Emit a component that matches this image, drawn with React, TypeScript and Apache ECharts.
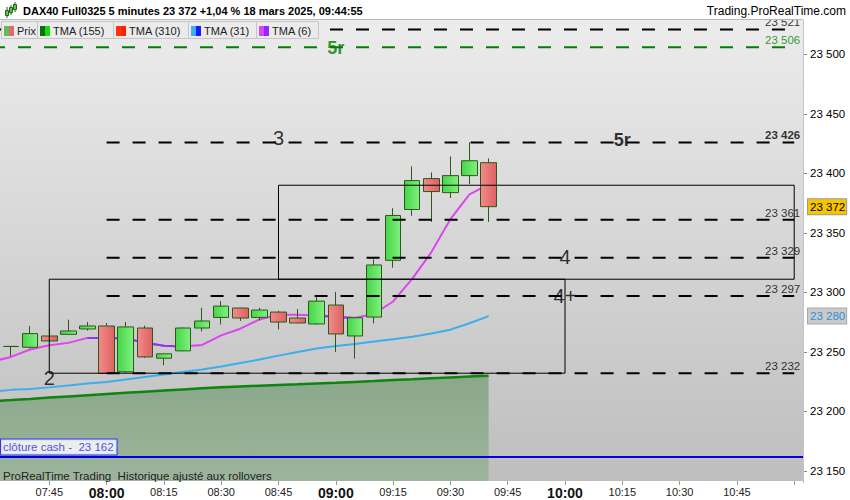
import React, { useEffect, useRef } from "react";
import * as echarts from "echarts";

// ---------- DATA ----------
const candleTimes = ["07:35","07:40","07:45","07:50","07:55","08:00","08:05","08:10","08:15","08:20","08:25","08:30","08:35","08:40","08:45","08:50","08:55","09:00","09:05","09:10","09:15","09:20","09:25","09:30","09:35","09:40"];
const opens  = [23254.5,23253.8,23263.3,23264.7,23269.2,23271.7,23233.2,23270.0,23244.6,23250.8,23270.0,23278.9,23286.8,23278.9,23283.4,23278.4,23273.4,23289.3,23263.3,23279.2,23326.9,23369.6,23395.6,23383.8,23398.1,23409.0];
const closes = [23254.5,23265.3,23259.1,23267.5,23271.7,23231.8,23270.9,23245.7,23248.3,23270.0,23275.9,23288.4,23278.4,23285.1,23275.0,23274.2,23292.6,23265.0,23278.6,23323.0,23364.6,23393.9,23384.7,23398.1,23410.6,23372.0];
const lows   = [23246.2,23252.7,23259.1,23264.7,23267.8,23231.5,23232.5,23244.9,23238.7,23250.5,23267.2,23273.0,23275.9,23276.4,23268.8,23274.0,23273.0,23249.9,23244.3,23273.9,23320.7,23364.3,23359.2,23379.3,23391.0,23359.2];
const highs  = [23254.5,23271.7,23269.2,23277.0,23275.0,23274.2,23275.0,23272.0,23248.5,23270.5,23287.0,23292.6,23287.0,23287.0,23284.5,23285.9,23296.0,23300.4,23279.0,23327.8,23370.7,23405.9,23400.8,23414.2,23426.0,23412.6];

const maTimes = ["07:30", ...candleTimes];
const tma155 = [23208.5,23209.4,23210.4,23211.5,23212.5,23213.5,23214.5,23215.5,23216.5,23217.5,23218.4,23219.3,23220.1,23220.9,23221.5,23222.1,23222.7,23223.4,23224.0,23224.7,23225.4,23226.2,23226.9,23227.8,23228.5,23229.2,23229.8];
const tma31  = [23216.5,23218.0,23218.8,23220.1,23221.7,23223.4,23224.7,23226.7,23228.8,23230.9,23233.0,23235.1,23237.6,23240.6,23243.5,23246.8,23249.8,23252.7,23254.8,23256.5,23258.6,23260.6,23262.7,23265.3,23268.6,23274.0,23280.0];
const tma6   = [23241.8,23245.7,23251.9,23255.5,23257.5,23261.7,23261.7,23261.1,23257.7,23255.0,23254.4,23255.8,23263.8,23269.4,23277.2,23281.2,23281.2,23280.6,23279.2,23278.4,23282.0,23292.3,23311.3,23333.6,23361.5,23382.4,23390.8];
const tma6FallingFrom = ["07:55", "08:55"];
const tma6FallingTo   = ["08:20", "09:05"];

const levelValues = [23521, 23506, 23426, 23361, 23329, 23297, 23232];
const levelStarts = ["07:30", "07:30", "08:00", "08:00", "08:00", "08:00", "08:00"];
const levelEnds   = ["11:00", "11:00", "11:00", "11:00", "11:00", "11:00", "11:00"];

const boxFrom = ["07:45", "08:45"];
const boxTo   = ["10:00", "11:00"];
const boxLow  = [23232, 23311];
const boxHigh = [23311, 23390];

const noteTexts  = ["5r", "3", "5r", "4", "4+", "2"];
const noteTimes  = ["09:00", "08:45", "10:15", "10:00", "10:00", "07:45"];
const noteValues = [23506, 23426, 23426, 23329, 23297, 23232];

const cashClose = 23162;
const xTickTimes = ["07:45","08:00","08:15","08:30","08:45","09:00","09:15","09:30","09:45","10:00","10:15","10:30","10:45","11:00"];
const xLabelTimes = ["07:45","08:00","08:15","08:30","08:45","09:00","09:15","09:30","09:45","10:00","10:15","10:30","10:45"];
const yTicks = [23150, 23200, 23250, 23300, 23350, 23400, 23450, 23500];

const titleText = "DAX40 Full0325 5 minutes 23 372 +1,04 % 18 mars 2025, 09:44:55";
const siteText = "Trading.ProRealTime.com";
const footText = "ProRealTime Trading  Historique ajusté aux rollovers";
const cashText = "clôture cash -  ";
const legendLabels = ["Prix", "TMA (155)", "TMA (310)", "TMA (31)", "TMA (6)"];

// ---------- STYLE ----------
const FONT = "'Liberation Sans', Arial, Helvetica, sans-serif";
const BASE = 7 * 60; // minutes measured from 07:00
const X_MIN = 32.1;
const X_MAX = 242.3;
const Y_MIN = 23141.4;
const Y_MAX = 23528.9;
const levelColors = ["#000", "#008000", "#000", "#000", "#000", "#000", "#000"];
const levelLabelBold = [false, false, true, false, false, false, false];
const noteStyles = [
  { color: "#008000", size: 18, weight: "bold", dy: 1 },
  { color: "#000", size: 20, weight: "normal", dy: -4.5 },
  { color: "#000", size: 18, weight: "bold", dy: -2 },
  { color: "#000", size: 20, weight: "normal", dy: -1 },
  { color: "#000", size: 20, weight: "normal", dy: 0 },
  { color: "#000", size: 20, weight: "normal", dy: 4.5 },
];
const legendBoxes = [
  { x0: 1, x1: 37, sw: ["#5cbf5c", "#e46a6a"] },
  { x0: 37, x1: 113, sw: ["#0b6e0b", "#11dd11"] },
  { x0: 113, x1: 188, sw: ["#ff3311", "#ff2200"] },
  { x0: 188, x1: 256, sw: ["#40b0f0", "#1a1aff"] },
  { x0: 256, x1: 318, sw: ["#d848f0", "#9028ff"] },
];

function toMin(t: string): number {
  const [h, m] = t.split(":").map(Number);
  return h * 60 + m - BASE;
}
function fmt(v: number): string {
  const r = Math.round(v);
  return `${Math.floor(r / 1000)} ${String(r % 1000).padStart(3, "0")}`;
}

export default function App() {
  const ref = useRef<HTMLDivElement>(null);
  useEffect(() => {
    if (!ref.current) return;
    const chart = echarts.init(ref.current, undefined, { renderer: "svg" });

    const candleData = candleTimes.map((t, i) => [toMin(t), opens[i], closes[i], lows[i], highs[i]]);
    const line = (arr: number[]) => maTimes.map((t, i) => [toMin(t), arr[i]]);
    const purple: any[] = [];
    maTimes.forEach((t, i) => {
      const m = toMin(t);
      const inside = tma6FallingFrom.some((f, k) => m >= toMin(f) && m <= toMin(tma6FallingTo[k]));
      if (inside) purple.push([m, tma6[i]]);
      else if (purple.length && purple[purple.length - 1] !== "-") purple.push("-");
    });

    const greenGrad = new echarts.graphic.LinearGradient(0, 0, 1, 0, [
      { offset: 0, color: "#46d646" },
      { offset: 1, color: "#80f080" },
    ]);
    const redGrad = new echarts.graphic.LinearGradient(0, 0, 1, 0, [
      { offset: 0, color: "#f48a8a" },
      { offset: 1, color: "#dc6262" },
    ]);

    const tagLabel = { show: true, opacity: 1, position: "end", distance: 5, fontSize: 11.5, fontFamily: FONT, padding: [2, 1, 1, 2], borderWidth: 1 };
    const hiddenLine = { color: "rgba(0,0,0,0)", width: 1, opacity: 1 };

    const levelSeries = levelValues.map((v, i) => ({
      type: "line",
      z: 5,
      silent: true,
      symbol: "none",
      data: [[toMin(levelStarts[i]), v], [toMin(levelEnds[i]), v]],
      lineStyle: { color: levelColors[i], width: 2, type: [13, 13] },
    }));

    const boxSeries = boxFrom.map((f, i) => ({
      type: "line",
      z: 5,
      silent: true,
      symbol: "none",
      data: [
        [toMin(f), boxLow[i]],
        [toMin(boxTo[i]), boxLow[i]],
        [toMin(boxTo[i]), boxHigh[i]],
        [toMin(f), boxHigh[i]],
        [toMin(f), boxLow[i]],
      ],
      lineStyle: { color: "#000", width: 1 },
    }));

    const legendGraphics: any[] = [];
    legendBoxes.forEach((b, i) => {
      legendGraphics.push({
        type: "rect", z: 200,
        shape: { x: b.x0 + 0.5, y: 21.5, width: b.x1 - b.x0, height: 17 },
        style: { fill: "#ebebeb", stroke: "#c6c6c6", lineWidth: 1 },
      });
      legendGraphics.push({
        type: "rect", z: 201,
        shape: { x: b.x0 + 3, y: 26, width: 5, height: 10 },
        style: { fill: b.sw[0] },
      });
      legendGraphics.push({
        type: "rect", z: 201,
        shape: { x: b.x0 + 8, y: 26, width: 5, height: 10 },
        style: { fill: b.sw[1] },
      });
      legendGraphics.push({
        type: "text", z: 201, x: b.x0 + 16, y: 31,
        style: { text: legendLabels[i], fill: "#222", fontSize: 11, fontFamily: FONT, align: "left", verticalAlign: "middle" },
      });
    });

    const option: any = {
      animation: false,
      backgroundColor: "#ffffff",
      grid: {
        left: 0, right: 47, top: 20, bottom: 17,
        show: true,
        borderWidth: 0,
        backgroundColor: new echarts.graphic.LinearGradient(0, 0, 0, 1, [
          { offset: 0, color: "#ececec" },
          { offset: 1, color: "#bebebe" },
        ]),
      },
      xAxis: {
        type: "value",
        min: X_MIN,
        max: X_MAX,
        splitLine: { show: false },
        axisPointer: { show: false },
        axisLine: { show: false, onZero: false },
        axisTick: { show: true, length: 4, lineStyle: { color: "#999" }, customValues: xTickTimes.map(toMin) },
        axisLabel: {
          customValues: xLabelTimes.map(toMin),
          margin: 5,
          formatter: (v: number) => {
            const tot = Math.round(v) + BASE;
            const h = Math.floor(tot / 60);
            const m = tot % 60;
            const s = `${String(h).padStart(2, "0")}:${String(m).padStart(2, "0")}`;
            return m === 0 ? `{b|${s}}` : `{n|${s}}`;
          },
          rich: {
            n: { fontSize: 11, fontFamily: FONT, color: "#222" },
            b: { fontSize: 14, fontWeight: "bold", fontFamily: FONT, color: "#111" },
          },
        },
      },
      yAxis: {
        type: "value",
        position: "right",
        min: Y_MIN,
        max: Y_MAX,
        splitLine: { show: false },
        axisPointer: { show: false },
        axisLine: { show: false, onZero: false },
        axisTick: { show: true, length: 4, lineStyle: { color: "#888" }, customValues: yTicks },
        axisLabel: {
          customValues: yTicks,
          margin: 7,
          fontSize: 11.5,
          fontFamily: FONT,
          color: "#000",
          formatter: (v: number) => fmt(v),
        },
      },
      series: [
        {
          type: "line", z: 1, silent: true, symbol: "none",
          data: line(tma155),
          lineStyle: { color: "#0f840f", width: 2.5 },
          areaStyle: {
            origin: "start",
            opacity: 1,
            color: new echarts.graphic.LinearGradient(0, 0, 0, 1, [
              { offset: 0, color: "#8ba88b" },
              { offset: 1, color: "#9cb49c" },
            ]),
          },
        },
        {
          type: "line", z: 2, silent: true, symbol: "none",
          data: line(tma31),
          lineStyle: { color: "#3daeea", width: 2 },
        },
        {
          type: "line", z: 2, silent: true, symbol: "none",
          data: line(tma6),
          lineStyle: { color: "#dc46ee", width: 2 },
        },
        {
          type: "line", z: 2, silent: true, symbol: "none",
          data: purple,
          connectNulls: false,
          lineStyle: { color: "#9632f4", width: 2 },
        },
        {
          type: "candlestick", z: 3, silent: true,
          barWidth: 16,
          data: candleData,
          itemStyle: {
            color: greenGrad,
            color0: redGrad,
            borderColor: "#2b5a17",
            borderColor0: "#2b5a17",
            borderColorDoji: "#2b5a17",
            borderWidth: 1,
          },
          markLine: {
            silent: true,
            symbol: "none",
            lineStyle: hiddenLine,
            label: tagLabel,
            data: [
              {
                yAxis: closes[closes.length - 1],
                lineStyle: hiddenLine,
                label: { ...tagLabel, formatter: fmt(closes[closes.length - 1]), color: "#000", backgroundColor: "#f6c500", borderColor: "#9a9a9a" },
              },
              {
                yAxis: tma31[tma31.length - 1],
                lineStyle: hiddenLine,
                label: { ...tagLabel, formatter: fmt(tma31[tma31.length - 1]), color: "#2f8fd0", backgroundColor: "#cacaca", borderColor: "#a8a8a8" },
              },
            ],
          },
        },
        ...levelSeries,
        ...boxSeries,
        {
          type: "scatter", z: 6, silent: true, symbolSize: 0,
          data: levelValues.map((v, i) => ({
            value: [toMin(levelEnds[i]), v],
            label: {
              show: true,
              position: [6, -1],
              align: "right",
              verticalAlign: "bottom",
              formatter: fmt(v),
              fontSize: 11.5,
              fontFamily: FONT,
              fontWeight: levelLabelBold[i] ? "bold" : "normal",
              color: levelColors[i],
            },
          })),
        },
        {
          type: "scatter", z: 7, silent: true, symbolSize: 0,
          data: noteTexts.map((t, i) => ({
            value: [toMin(noteTimes[i]), noteValues[i]],
            label: {
              show: true,
              position: "inside",
              offset: [0, noteStyles[i].dy],
              formatter: t,
              fontSize: noteStyles[i].size,
              fontWeight: noteStyles[i].weight,
              fontFamily: FONT,
              color: noteStyles[i].color,
            },
          })),
        },
        {
          type: "scatter", z: 6, silent: true, symbolSize: 0,
          data: [{
            value: [X_MIN, cashClose],
            label: {
              show: true,
              position: [1, -2],
              align: "left",
              verticalAlign: "bottom",
              formatter: cashText + fmt(cashClose),
              fontSize: 11.5,
              fontFamily: FONT,
              color: "#2323ee",
              backgroundColor: "#ffffff",
              borderColor: "#1a1aff",
              borderWidth: 1,
              padding: [2, 3, 1, 2],
            },
          }],
          markLine: {
            silent: true,
            symbol: "none",
            label: { show: false },
            lineStyle: { color: "#0000e6", width: 2, type: "solid" },
            data: [{ yAxis: cashClose }],
          },
        },
      ],
      graphic: [
        { type: "rect", z: 100, shape: { x: 0, y: 0, width: 850, height: 19 }, style: { fill: "#ffffff" } },
        { type: "line", z: 101, shape: { x1: 0, y1: 19.5, x2: 803, y2: 19.5 }, style: { stroke: "#b8b8b8", lineWidth: 1 } },
        { type: "line", z: 101, shape: { x1: 803.5, y1: 20, x2: 803.5, y2: 483 }, style: { stroke: "#c4c4c4", lineWidth: 1 } },
        { type: "line", z: 101, shape: { x1: 7, y1: 7, x2: 7, y2: 18 }, style: { stroke: "#2b5a17", lineWidth: 1 } },
        { type: "rect", z: 102, shape: { x: 5.5, y: 10.5, width: 3, height: 5 }, style: { fill: "#48d448", stroke: "#2b5a17", lineWidth: 1 } },
        { type: "line", z: 101, shape: { x1: 11, y1: 5, x2: 11, y2: 15 }, style: { stroke: "#2b5a17", lineWidth: 1 } },
        { type: "rect", z: 102, shape: { x: 9.5, y: 7.5, width: 3, height: 5 }, style: { fill: "#48d448", stroke: "#2b5a17", lineWidth: 1 } },
        { type: "line", z: 101, shape: { x1: 15, y1: 2, x2: 15, y2: 12 }, style: { stroke: "#2b5a17", lineWidth: 1 } },
        { type: "rect", z: 102, shape: { x: 13.5, y: 4.5, width: 3, height: 5 }, style: { fill: "#48d448", stroke: "#2b5a17", lineWidth: 1 } },
        {
          type: "text", z: 102, x: 23, y: 11,
          style: { text: titleText, fill: "#000", fontSize: 11, fontWeight: "bold", fontFamily: FONT, align: "left", verticalAlign: "middle" },
        },
        {
          type: "text", z: 102, x: 846, y: 11,
          style: { text: siteText, fill: "#000", fontSize: 12, fontFamily: FONT, align: "right", verticalAlign: "middle" },
        },
        ...legendGraphics,
        {
          type: "text", z: 102, x: 3, y: 476,
          style: { text: footText, fill: "#222", fontSize: 11.5, fontFamily: FONT, align: "left", verticalAlign: "middle" },
        },
      ],
    };

    chart.setOption(option);
    return () => chart.dispose();
  }, []);

  return (
    <div
      ref={ref}
      style={{ position: "fixed", left: 0, top: 0, width: 850, height: 500, background: "#ffffff" }}
    />
  );
}
